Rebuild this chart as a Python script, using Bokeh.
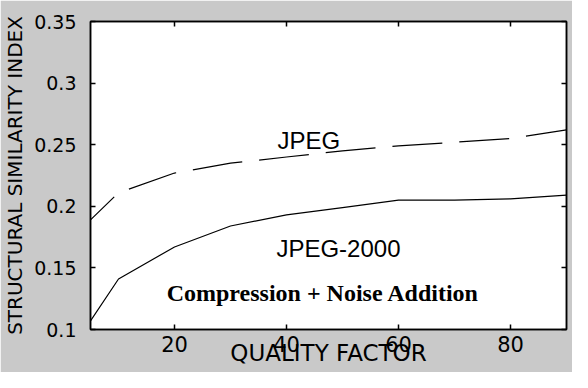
from bokeh.plotting import figure
from bokeh.models import Range1d, FixedTicker, LinearAxis, Label, CustomLabelingPolicy
from bokeh.embed import file_html
from bokeh.resources import INLINE

quality = [5, 10, 20, 30, 40, 50, 60, 70, 80, 90]
ssim_jpeg = [0.189, 0.211, 0.227, 0.235, 0.240, 0.245, 0.249, 0.252, 0.255, 0.262]
ssim_jpeg2000 = [0.107, 0.141, 0.167, 0.184, 0.193, 0.199, 0.205, 0.205, 0.206, 0.209]
x_ticks = [20, 40, 60, 80]
y_ticks = [0.1, 0.15, 0.2, 0.25, 0.3, 0.35]
y_tick_labels = ["0.1", "0.15", "0.2", "0.25", "0.3", "0.35"]

GRAY = "#c9c9c9"
TICK_FONT = "DejaVu Sans"

p = figure(width=572, height=372, output_backend="svg", toolbar_location=None,
           x_range=Range1d(5, 90), y_range=Range1d(0.1, 0.35),
           min_border_left=89, min_border_right=6, min_border_top=21, min_border_bottom=43,
           background_fill_color="white", border_fill_color=GRAY)
p.grid.visible = False
p.outline_line_color = "black"
p.outline_line_width = 1.5

# bottom axis
xa = p.xaxis[0]
xa.ticker = FixedTicker(ticks=x_ticks)
xa.major_tick_in = 5
xa.major_tick_out = 0
xa.minor_tick_line_color = None
xa.axis_line_width = 1.5
xa.major_tick_line_width = 1.5
xa.major_label_standoff = 6
xa.major_label_text_font = TICK_FONT
xa.major_label_text_font_size = "21px"
xa.major_label_text_color = "black"
xa.axis_label = "QUALITY FACTOR"
xa.axis_label_text_font = TICK_FONT
xa.axis_label_text_font_size = "23px"
xa.axis_label_text_font_style = "normal"
xa.axis_label_text_color = "black"
xa.axis_label_standoff = -15

# left axis
ya = p.yaxis[0]
ya.ticker = FixedTicker(ticks=y_ticks)
ya.major_label_overrides = {t: s for t, s in zip(y_ticks, y_tick_labels)}
ya.major_tick_in = 5
ya.major_tick_out = 0
ya.minor_tick_line_color = None
ya.axis_line_width = 1.5
ya.major_tick_line_width = 1.5
ya.major_label_standoff = 14
ya.major_label_text_font = TICK_FONT
ya.major_label_text_font_size = "19px"
ya.major_label_text_color = "black"
ya.axis_label = "STRUCTURAL SIMILARITY INDEX"
ya.axis_label_text_font = TICK_FONT
ya.axis_label_text_font_size = "20px"
ya.axis_label_text_font_style = "normal"
ya.axis_label_text_color = "black"
ya.axis_label_standoff = 4

# top and right box axes (ticks only, no labels)
no_labels = "for (const i of indices) { indices.unset(i) }\nreturn indices"
top = LinearAxis(ticker=FixedTicker(ticks=x_ticks), major_label_text_font_size="1px",
                 major_label_policy=CustomLabelingPolicy(code=no_labels),
                 major_label_standoff=0, major_tick_in=5, major_tick_out=0,
                 minor_tick_line_color=None, axis_line_width=1.5, major_tick_line_width=1.5)
p.add_layout(top, "above")
right = LinearAxis(ticker=FixedTicker(ticks=y_ticks), major_label_text_font_size="1px",
                   major_label_policy=CustomLabelingPolicy(code=no_labels),
                   major_label_standoff=0, major_tick_in=5, major_tick_out=0,
                   minor_tick_line_color=None, axis_line_width=1.5, major_tick_line_width=1.5)
p.add_layout(right, "right")

# data lines
p.line(quality, ssim_jpeg, line_color="black", line_width=1.2,
       line_dash="50 17", line_dash_offset=17)
p.line(quality, ssim_jpeg2000, line_color="black", line_width=1.2)

# annotations
p.add_layout(Label(x=38.4, y=0.2538, text="JPEG", text_font="Liberation Sans",
                   text_font_size="24px", text_baseline="alphabetic", text_color="black"))
p.add_layout(Label(x=38.2, y=0.1657, text="JPEG-2000", text_font="Liberation Sans",
                   text_font_size="24px", text_baseline="alphabetic", text_color="black"))
p.add_layout(Label(x=18.6, y=0.1296, text="Compression + Noise Addition",
                   text_font="Liberation Serif", text_font_style="bold",
                   text_font_size="24px", text_baseline="alphabetic", text_color="black"))

open("out.html", "w").write(file_html(p, INLINE))
